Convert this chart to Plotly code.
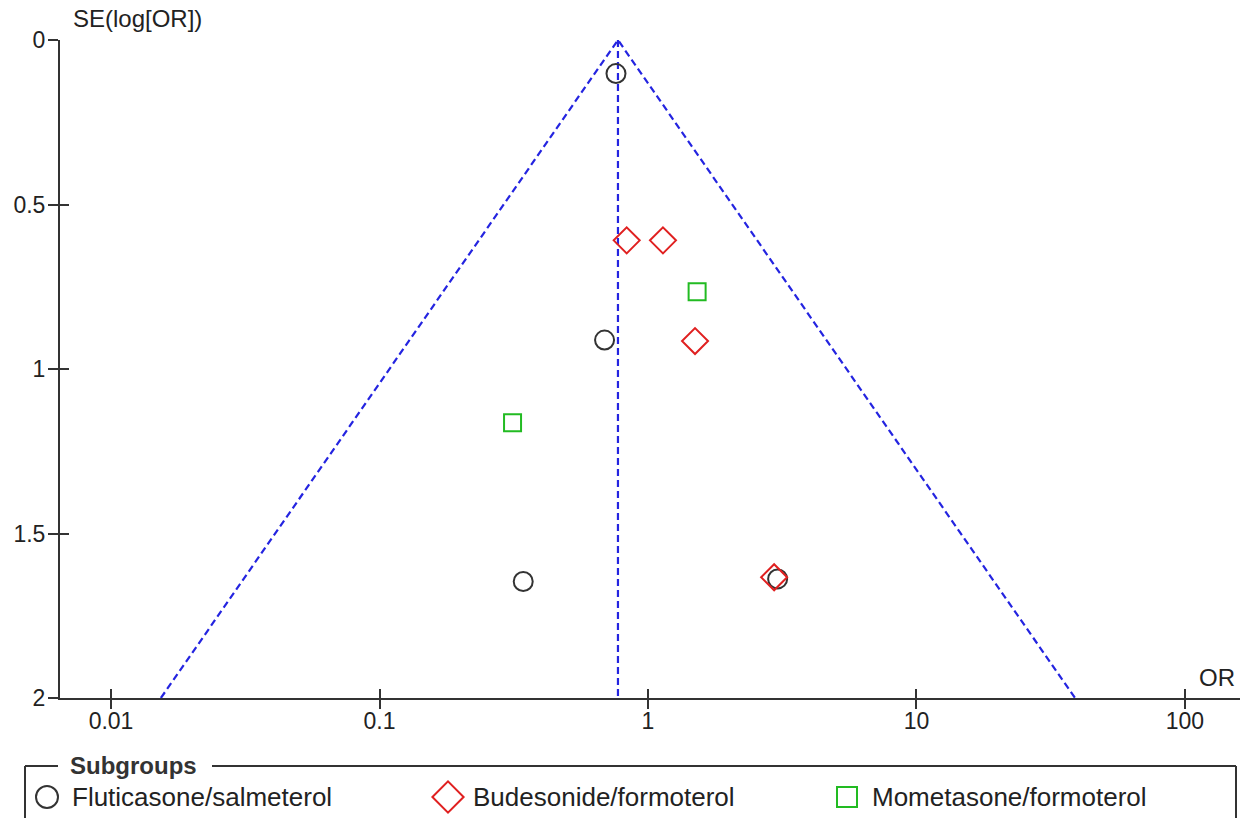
import math
import plotly.graph_objects as go

# Study estimates per subgroup: odds ratio and standard error of log(OR)
fs_or = [0.760, 0.689, 0.343, 3.04]
fs_se = [0.102, 0.912, 1.646, 1.638]

bf_or = [0.833, 1.137, 1.497, 2.95]
bf_se = [0.609, 0.609, 0.915, 1.633]

mf_or = [1.524, 0.313]
mf_se = [0.765, 1.163]

subgroups = ["Fluticasone/salmeterol", "Budesonide/formoterol", "Mometasone/formoterol"]

pooled_or = 0.773
se_max = 2.0

x_ticks = [0.01, 0.1, 1, 10, 100]
x_tick_labels = ["0.01", "0.1", "1", "10", "100"]
y_ticks = [0, 0.5, 1, 1.5, 2]
y_tick_labels = ["0", "0.5", "1", "1.5", "2"]

W, H = 1240, 818
# plot frame in page pixels
PL, PR, PT, PB = 60, 1240, 40, 698


def fx(x):
    return x / W


def fy(y):
    return 1 - y / H


FONT = "Liberation Sans, Arial, sans-serif"
TXT = "#222222"
AX = "#333333"
BLUE = "#2424e0"
C_FS, C_BF, C_MF = "#333333", "#e02020", "#22bb22"
symbols = ["circle-open", "diamond-open", "square-open"]
colors = [C_FS, C_BF, C_MF]

fig = go.Figure()

# 95% pseudo-confidence funnel and pooled estimate
lo = pooled_or * math.exp(-1.96 * se_max)
hi = pooled_or * math.exp(1.96 * se_max)
dash = dict(color=BLUE, width=2.2, dash="7px,4px")
fig.add_trace(go.Scatter(x=[lo, pooled_or, hi], y=[se_max, 0, se_max], mode="lines",
                         line=dash, showlegend=False, hoverinfo="skip"))
fig.add_trace(go.Scatter(x=[pooled_or, pooled_or], y=[0, se_max], mode="lines",
                         line=dash, showlegend=False, hoverinfo="skip"))

sizes = [19, 20, 17]
for name, xs, ys, sym, col, sz in zip(subgroups, [fs_or, bf_or, mf_or], [fs_se, bf_se, mf_se],
                                      symbols, colors, sizes):
    fig.add_trace(go.Scatter(x=xs, y=ys, mode="markers", name=name, showlegend=False,
                             marker=dict(symbol=sym, size=sz, color=col,
                                         line=dict(width=2, color=col))))

x_range = [-2.19, 2.205]
y_range = [2, 0]
x_dom = [fx(PL), fx(PR)]
y_dom = [fy(PB), fy(PT)]

common = dict(showgrid=False, zeroline=False)
fig.update_layout(
    width=W, height=H,
    margin=dict(l=0, r=0, t=0, b=0, pad=0, autoexpand=False),
    paper_bgcolor="white", plot_bgcolor="rgba(0,0,0,0)",
    font=dict(family=FONT, size=22, color=TXT),
    showlegend=False,
    xaxis=dict(type="log", range=x_range, domain=x_dom, anchor="y",
               tickvals=x_ticks, ticktext=x_tick_labels,
               showline=True, linecolor=AX, linewidth=2,
               ticks="outside", ticklen=9, tickwidth=2, tickcolor=AX,
               ticklabelstandoff=-8,
               tickfont=dict(size=23, color=TXT), **common),
    yaxis=dict(range=y_range, domain=y_dom, anchor="x",
               tickvals=y_ticks, ticktext=y_tick_labels,
               showline=True, linecolor=AX, linewidth=2,
               ticks="outside", ticklen=10, tickwidth=2, tickcolor=AX,
               ticklabelstandoff=-2,
               tickfont=dict(size=23, color=TXT), **common),
    # inner halves of the crossing tick marks
    xaxis2=dict(type="log", range=x_range, domain=x_dom, anchor="y", overlaying="x",
                side="bottom", tickvals=x_ticks, showticklabels=False,
                ticks="inside", ticklen=9, tickwidth=2, tickcolor=AX, showline=False, **common),
    yaxis2=dict(range=y_range, domain=y_dom, anchor="x", overlaying="y", side="left",
                tickvals=y_ticks, showticklabels=False,
                ticks="inside", ticklen=9, tickwidth=2, tickcolor=AX, showline=False, **common),
    # full-page axes for the legend keys
    xaxis3=dict(range=[0, W], domain=[0, 1], anchor="y3", visible=False, **common),
    yaxis3=dict(range=[H, 0], domain=[0, 1], anchor="x3", visible=False, **common),
)

fig.add_trace(go.Scatter(x=[pooled_or], y=[0], xaxis="x2", yaxis="y2", mode="markers",
                         marker=dict(opacity=0), showlegend=False, hoverinfo="skip"))

# legend keys and labels
key_x = [47, 448, 847]
key_y = 797
key_sizes = [22, 24, 20]
for name, kx, sym, col, sz in zip(subgroups, key_x, symbols, colors, key_sizes):
    fig.add_trace(go.Scatter(x=[kx], y=[key_y], xaxis="x3", yaxis="y3", mode="markers",
                             marker=dict(symbol=sym, size=sz, color=col,
                                         line=dict(width=2, color=col)),
                             showlegend=False, hoverinfo="skip"))
    fig.add_annotation(text=name, xref="paper", yref="paper", x=fx(kx + 23), y=fy(key_y),
                       xanchor="left", yanchor="middle", showarrow=False,
                       font=dict(size=26, color=TXT))

fig.add_annotation(text="SE(log[OR])", xref="paper", yref="paper", x=fx(71), y=fy(18),
                   xanchor="left", yanchor="middle", showarrow=False,
                   font=dict(size=24, color=TXT))
fig.add_annotation(text="OR", xref="paper", yref="paper", x=fx(1237), y=fy(677),
                   xanchor="right", yanchor="middle", showarrow=False,
                   font=dict(size=24, color=TXT))
fig.add_annotation(text="<b>Subgroups</b>", xref="paper", yref="paper", x=fx(68), y=fy(765),
                   xanchor="left", yanchor="middle", showarrow=False,
                   font=dict(size=24, color="#333333"))

# legend frame with a gap for its title
box_style = dict(color=AX, width=2)
for x0, y0, x1, y1 in [(25, 766, 58, 766), (212, 766, 1236, 766),
                       (25, 766, 25, 830), (1236, 766, 1236, 830)]:
    fig.add_shape(type="line", xref="paper", yref="paper",
                  x0=fx(x0), y0=fy(y0), x1=fx(x1), y1=fy(y1), line=box_style)

fig.write_html("out.html")
